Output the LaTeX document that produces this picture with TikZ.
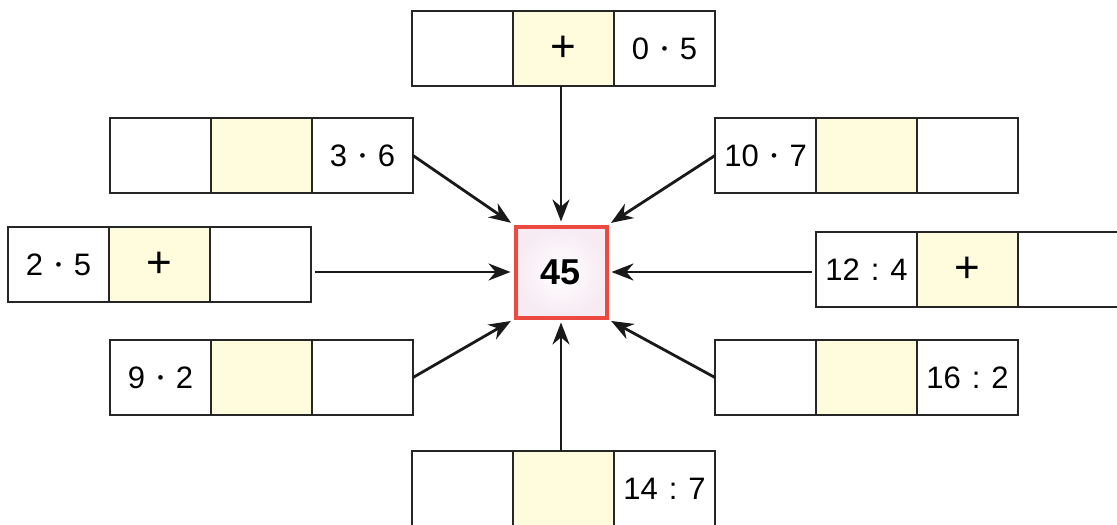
\documentclass[tikz,border=0pt]{standalone}
\usepackage{fontspec}
\setmainfont{Liberation Sans}
\usepackage{xcolor}
\usepackage{tikz}
\usetikzlibrary{arrows.meta,calc,positioning}
\definecolor{gelbton}{RGB}{254,252,220}
\definecolor{rosa}{RGB}{247,234,243}
\definecolor{rotrand}{RGB}{236,74,64}
\newcommand{\zahlfont}{\fontsize{31}{34}\selectfont}
\newcommand{\plusfont}{\fontsize{44}{46}\selectfont}
\newcommand{\mal}[2]{#1\hspace{.4em}\raisebox{5pt}{\fontsize{17}{20}\selectfont•}\hspace{.4em}#2}
\newcommand{\durch}[2]{#1\hspace{.35em}:\hspace{.35em}#2}
\tikzset{
  feld/.style={draw=black!85,line width=2pt,minimum width=101pt,minimum height=75pt,inner sep=0pt,outer sep=0pt,font=\zahlfont},
  gelbfeld/.style={feld,fill=gelbton},
  zielfeld/.style={draw=rotrand,line width=4pt,inner color=white,outer color=rosa,minimum size=91pt,inner sep=0pt,font=\fontsize{36}{40}\selectfont\bfseries},
  pfeil/.style={-{Stealth[length=22pt,width=17pt]},line width=2.8pt,black!90,shorten >=3pt}
}

\begin{document}
\begin{tikzpicture}[x=1pt,y=-1pt]
\fill[white] (0,0) rectangle (1117,525);
\useasboundingbox (0,0) rectangle (1117,525);
% Mitte
\node[zielfeld] (ziel) at (561,272) {45};
% oben
\begin{scope}
\node[feld] (o1) at (462.5,48.5) {};
\node[gelbfeld] (o2) at (563.5,48.5) {\plusfont +};
\node[feld] (o3) at (664.5,48.5) {\mal{0}{5}};
\end{scope}
% links oben
\begin{scope}
\node[feld] (lo1) at (160.5,155.5) {};
\node[gelbfeld] (lo2) at (261.5,155.5) {};
\node[feld] (lo3) at (362.5,155.5) {\mal{3}{6}};
\end{scope}
% rechts oben
\begin{scope}
\node[feld] (ro1) at (765.5,155.5) {\mal{10}{7}};
\node[gelbfeld] (ro2) at (866.5,155.5) {};
\node[feld] (ro3) at (967.5,155.5) {};
\end{scope}
% links Mitte
\begin{scope}
\node[feld] (lm1) at (58.5,264.5) {\mal{2}{5}};
\node[gelbfeld] (lm2) at (159.5,264.5) {\plusfont +};
\node[feld] (lm3) at (260.5,264.5) {};
\end{scope}
% rechts Mitte
\begin{scope}
\node[feld] (rm1) at (866.5,269.5) {\durch{12}{4}};
\node[gelbfeld] (rm2) at (967.5,269.5) {\plusfont +};
\node[feld] (rm3) at (1068.5,269.5) {};
\end{scope}
% links unten
\begin{scope}
\node[feld] (lu1) at (160.5,377.5) {\mal{9}{2}};
\node[gelbfeld] (lu2) at (261.5,377.5) {};
\node[feld] (lu3) at (362.5,377.5) {};
\end{scope}
% rechts unten
\begin{scope}
\node[feld] (ru1) at (765.5,377.5) {};
\node[gelbfeld] (ru2) at (866.5,377.5) {};
\node[feld] (ru3) at (967.5,377.5) {\durch{16}{2}};
\end{scope}
% unten
\begin{scope}
\node[feld] (u1) at (462.5,488.5) {};
\node[gelbfeld] (u2) at (563.5,488.5) {};
\node[feld] (u3) at (664.5,488.5) {\durch{14}{7}};
\end{scope}
% Pfeile
\draw[pfeil] (o2.south -| ziel.north) -- (ziel.north);
\draw[pfeil] (u2.north -| ziel.south) -- (ziel.south);
\draw[pfeil,shorten <=4pt] (lm3.east |- ziel.west) -- (ziel.west);
\draw[pfeil,shorten <=4pt] (rm1.west |- ziel.east) -- (ziel.east);
\draw[pfeil] (lo3.east) -- (ziel.north west);
\draw[pfeil] (ro1.west) -- (ziel.north east);
\draw[pfeil] (lu3.east) -- (ziel.south west);
\draw[pfeil] (ru1.west) -- (ziel.south east);
\end{tikzpicture}
\end{document}
